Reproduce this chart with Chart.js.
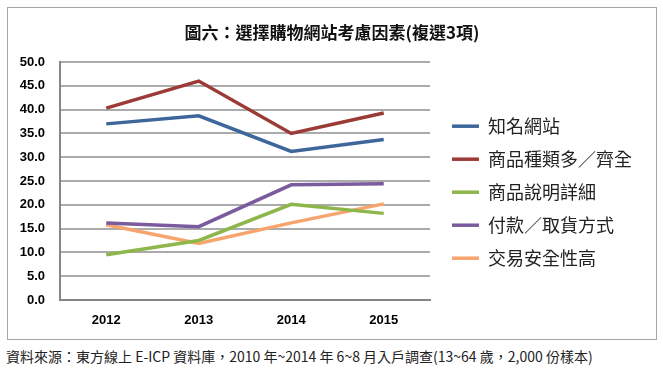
<!DOCTYPE html>
<html>
<head>
<meta charset="utf-8">
<script src="https://cdn.jsdelivr.net/npm/chart.js"></script>
<style>
  body { margin: 0; background: #fff; width: 663px; height: 370px; position: relative; overflow: hidden; }
  #box { position: absolute; left: 7px; top: 7px; width: 648px; height: 331px; border: 1px solid #a6a6a6; }
  #titulo { position: absolute; left: 0; top: 11px; width: 648px; text-align: center;
    font-family: "Noto Sans CJK TC", sans-serif; font-weight: bold; font-size: 17px; color: #111; }
  #fonte { position: absolute; left: 6px; top: 346px; font-family: "Noto Sans CJK TC", sans-serif;
    font-size: 14px; color: #222; white-space: nowrap; }
  canvas { position: absolute; left: 0; top: 0; }
</style>
</head>
<body>
<div id="box">
  <canvas id="grafico" width="648" height="331"></canvas>
  <div id="titulo">圖六：選擇購物網站考慮因素(複選3項)</div>
</div>
<div id="fonte">資料來源：東方線上 E-ICP 資料庫，2010 年~2014 年 6~8 月入戶調查(13~64 歲，2,000 份樣本)</div>
<script>
const anos = ["2012", "2013", "2014", "2015"];
const sitesConhecidos = [37.0, 38.7, 31.2, 33.7];
const variedade = [40.3, 46.0, 35.0, 39.3];
const descricao = [9.5, 12.5, 20.1, 18.2];
const pagamento = [16.2, 15.4, 24.2, 24.4];
const seguranca = [15.8, 11.9, 16.2, 20.2];
const nomes = ["知名網站", "商品種類多／齊全", "商品說明詳細", "付款／取貨方式", "交易安全性高"];
const cores = ["#3d679b", "#9b3a37", "#8db64b", "#7a5b9e", "#f7a46e"];
const larguraLegenda = 210;

function serie(i, valores) {
  return {
    label: nomes[i],
    data: valores,
    borderColor: cores[i],
    backgroundColor: cores[i],
    borderWidth: 3.5,
    tension: 0,
    pointRadius: 0,
    pointHoverRadius: 0,
  };
}

// o Chart.js limita a largura da legenda lateral, aqui forço a largura
const legendaLarga = {
  id: "legendaLarga",
  beforeLayout(chart) {
    const leg = chart.legend;
    if (leg && !leg._larga) {
      const fitOriginal = leg.fit;
      leg.fit = function () {
        fitOriginal.call(this);
        this.width = larguraLegenda;
      };
      leg._larga = true;
    }
  },
};

const ctx = document.getElementById("grafico");

new Chart(ctx, {
  type: "line",
  data: {
    labels: anos,
    datasets: [
      serie(0, sitesConhecidos),
      serie(1, variedade),
      serie(2, descricao),
      serie(3, pagamento),
      serie(4, seguranca),
    ],
  },
  plugins: [legendaLarga],
  options: {
    responsive: false,
    animation: false,
    layout: {
      padding: { left: 10, top: 54, right: 9, bottom: 9 },
    },
    plugins: {
      tooltip: { enabled: false },
      legend: {
        position: "right",
        align: "center",
        fullSize: false,
        title: { display: true, text: "", padding: 4, font: { size: 12 } },
        labels: {
          usePointStyle: true,
          pointStyle: "line",
          pointStyleWidth: 27,
          padding: 15,
          color: "#222",
          font: { family: "'Noto Sans CJK TC', sans-serif", size: 18 },
        },
      },
    },
    scales: {
      x: {
        offset: true,
        grid: { display: false, offset: true, drawTicks: false },
        border: { display: true, color: "#868686", width: 2 },
        ticks: {
          padding: 13,
          maxRotation: 0,
          color: "#000",
          font: { family: "'Liberation Sans', Arial, sans-serif", size: 13, weight: "bold" },
        },
        afterFit: (eixo) => {
          eixo.height = 30;
        },
      },
      y: {
        min: 0,
        max: 50,
        grid: { color: "#ababab", lineWidth: 2, drawTicks: false },
        border: { display: true, color: "#868686", width: 2 },
        ticks: {
          stepSize: 5,
          padding: 15,
          color: "#000",
          font: { family: "'Liberation Sans', Arial, sans-serif", size: 13, weight: "bold" },
          callback: (v) => v.toFixed(1),
        },
        afterFit: (eixo) => {
          eixo.width = 42;
        },
      },
      espaco: {
        type: "linear",
        position: "right",
        grid: { display: false },
        border: { display: false },
        ticks: { display: false },
        afterFit: (eixo) => {
          eixo.width = 7;
        },
      },
    },
  },
});
</script>
</body>
</html>
